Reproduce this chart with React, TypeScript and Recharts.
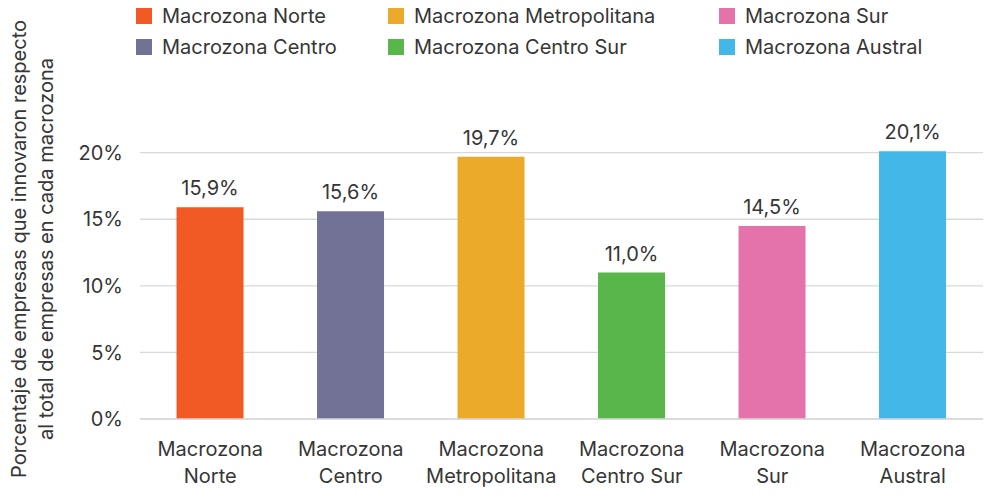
import { Bar, BarChart, CartesianGrid, Cell, LabelList, Legend, XAxis, YAxis } from 'recharts';

const categories = [
  'Macrozona Norte',
  'Macrozona Centro',
  'Macrozona Metropolitana',
  'Macrozona Centro Sur',
  'Macrozona Sur',
  'Macrozona Austral',
];
const values = [0.159, 0.156, 0.197, 0.11, 0.145, 0.201];
const colors = ['#F15A24', '#727297', '#EBAA2A', '#58B64B', '#E573AB', '#42B7E8'];
const yTicks = [0, 0.05, 0.1, 0.15, 0.2];
const yLabelLines = [
  'Porcentaje de empresas que innovaron respecto',
  'al total de empresas en cada macrozona',
];

const data = categories.map((name, i) => ({ name, value: values[i] }));

const FONT = 'Inter, "Noto Sans", sans-serif';
const TEXT = '#363636';

// legend is laid out in 3 columns, filled row by row (Norte, Metro, Sur / Centro, Centro Sur, Austral)
const legendOrder = [0, 2, 4, 1, 3, 5];
const legendCols = [136, 388, 719];

function LegendBox() {
  return (
    <div style={{ position: 'relative', width: 984, height: 62, fontFamily: FONT, fontSize: 20, color: TEXT }}>
      {legendOrder.map((idx, k) => (
        <div
          key={idx}
          style={{
            position: 'absolute',
            left: legendCols[k % 3],
            top: 2 + Math.floor(k / 3) * 31,
            display: 'flex',
            alignItems: 'center',
            height: 28,
            whiteSpace: 'nowrap',
          }}
        >
          <span style={{ width: 16, height: 16, background: colors[idx], marginRight: 10 }} />
          <span>{categories[idx]}</span>
        </div>
      ))}
    </div>
  );
}

function XTick({ x, y, payload }: any) {
  const name: string = payload.value;
  const sp = name.indexOf(' ');
  return (
    <text x={x} y={y} textAnchor="middle" fill={TEXT} fontSize={20} fontFamily={FONT}>
      <tspan x={x} dy={29}>{name.slice(0, sp)}</tspan>
      <tspan x={x} dy={26.5}>{name.slice(sp + 1)}</tspan>
    </text>
  );
}

function YTitle() {
  return (
    <g>
      {yLabelLines.map((line, i) => (
        <text
          key={i}
          transform="rotate(-90)"
          x={-249}
          y={26 + i * 27}
          textAnchor="middle"
          fill={TEXT}
          fontSize={20}
          fontFamily={FONT}
        >
          {line}
        </text>
      ))}
    </g>
  );
}

export default function App() {
  return (
    <div style={{ width: 984, height: 499, background: '#fff', position: 'relative' }}>
      <style>{'body{margin:0}'}</style>
      <BarChart
        width={984}
        height={499}
        data={data}
        margin={{ top: 64, right: 1, left: 0, bottom: 0 }}
        barCategoryGap="26%"
      >
        <Legend
          verticalAlign="top"
          align="left"
          content={() => <LegendBox />}
          wrapperStyle={{ top: 0, left: 0, width: 984, height: 62 }}
        />
        <CartesianGrid vertical={false} stroke="#d9d9d9" strokeWidth={1.3} horizontalValues={yTicks} />
        <XAxis
          dataKey="name"
          axisLine={{ stroke: '#d9d9d9', strokeWidth: 1.3 }}
          tickLine={false}
          height={80}
          interval={0}
          tick={<XTick />}
        />
        <YAxis
          width={140}
          domain={[0, 0.22]}
          ticks={yTicks}
          axisLine={false}
          tickLine={false}
          tickMargin={11}
          tickFormatter={(v: number) => `${Math.round(v * 100)}%`}
          tick={{ fill: TEXT, fontSize: 20, fontFamily: FONT }}
          label={{ content: () => <YTitle /> }}
        />
        <Bar dataKey="value" isAnimationActive={false}>
          {data.map((d, i) => (
            <Cell key={d.name} fill={colors[i]} />
          ))}
          <LabelList
            dataKey="value"
            position="top"
            offset={12}
            formatter={(v: any) => `${(v * 100).toFixed(1).replace('.', ',')}%`}
            style={{ fill: TEXT, fontSize: 20, fontFamily: FONT }}
          />
        </Bar>
      </BarChart>
    </div>
  );
}
